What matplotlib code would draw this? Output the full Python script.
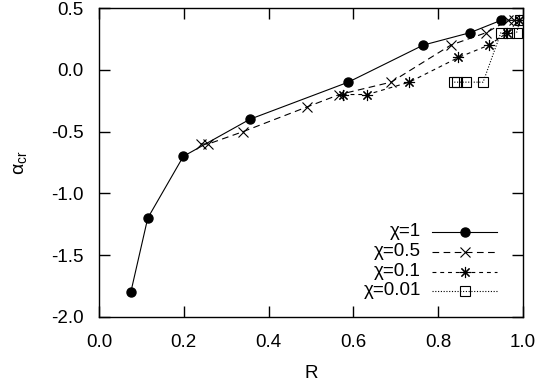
import matplotlib
matplotlib.use("Agg")
import matplotlib.pyplot as plt
from matplotlib.lines import Line2D

plt.rcParams['font.family'] = ['Liberation Sans', 'DejaVu Sans']
plt.rcParams['mathtext.default'] = 'regular'
plt.rcParams['font.size'] = 13.5

# data
chi1_R = [0.075, 0.115, 0.199, 0.356, 0.588, 0.765, 0.875, 0.948]
chi1_a = [-1.8, -1.2, -0.7, -0.4, -0.1, 0.2, 0.3, 0.4]
chi05_R = [0.240, 0.258, 0.340, 0.491, 0.567, 0.689, 0.830, 0.913, 0.965, 0.978]
chi05_a = [-0.6, -0.6, -0.5, -0.3, -0.2, -0.1, 0.2, 0.3, 0.4, 0.4]
chi01_R = [0.575, 0.633, 0.732, 0.848, 0.920, 0.963, 0.990]
chi01_a = [-0.2, -0.2, -0.1, 0.1, 0.2, 0.3, 0.4]
chi001_R = [0.838, 0.845, 0.866, 0.906, 0.948, 0.966, 0.985, 0.993]
chi001_a = [-0.1, -0.1, -0.1, -0.1, 0.3, 0.3, 0.3, 0.4]
labels = ['χ=1', 'χ=0.5', 'χ=0.1', 'χ=0.01']
xticks = [0.0, 0.2, 0.4, 0.6, 0.8, 1.0]
yticks = [-2.0, -1.5, -1.0, -0.5, 0.0, 0.5]

fig = plt.figure(figsize=(5.38, 3.81), dpi=100)
ax = fig.add_axes([0.184, 0.168, 0.788, 0.811])

lw = 0.8
styles = [
    dict(ls='-', marker='o', ms=6.5, mfc='black', mec='black'),
    dict(ls=(0, (6, 4)), marker='x', ms=7.5, mfc='none', mec='black', mew=0.8),
    dict(ls=(0, (3.5, 3.5)), marker=(8, 2, 0), ms=8, mfc='none', mec='black', mew=0.8),
    dict(ls=(0, (1, 1.5)), marker='s', ms=7, mfc='none', mec='black', mew=0.8),
]
series = [(chi1_R, chi1_a), (chi05_R, chi05_a), (chi01_R, chi01_a), (chi001_R, chi001_a)]
for (xs, ys), st in zip(series, styles):
    ax.plot(xs, ys, color='black', lw=lw, **st)

ax.set_xlim(0, 1)
ax.set_ylim(-2.0, 0.5)
ax.set_xticks(xticks)
ax.set_yticks(yticks)
ax.set_xticklabels([f'{v:.1f}' for v in xticks])
ax.set_yticklabels([f'{v:.1f}' for v in yticks])
ax.tick_params(direction='in', length=8, width=1, top=True, right=True, labelsize=13.5)
ax.tick_params(axis='x', pad=12)
ax.tick_params(axis='y', pad=11)
for s in ax.spines.values():
    s.set_linewidth(1)
ax.set_xlabel('R', fontsize=13.5, labelpad=10)
ax.set_ylabel(r'$\alpha_{cr}$', fontsize=14, labelpad=16)

# legend (gnuplot style, right-justified text)
leg_y = [231.7, 251.7, 271.7, 290.7]
for lab, st, yp in zip(labels, styles, leg_y):
    yf = 1 - (yp - 8) / 309
    x0 = (432 - 99) / 424
    x1 = (497 - 99) / 424
    xm = (465 - 99) / 424
    ax.add_line(Line2D([x0, x1], [yf, yf], transform=ax.transAxes, color='black', lw=lw, ls=st['ls']))
    ax.add_line(Line2D([xm], [yf], transform=ax.transAxes, color='black', lw=0,
                       marker=st['marker'], ms=st['ms'], mfc=st['mfc'], mec=st['mec'],
                       mew=st.get('mew', 1)))
    ax.text((421 - 99) / 424, yf, lab, transform=ax.transAxes, ha='right', va='center', fontsize=13.5)

fig.savefig('out.png', dpi=100)
